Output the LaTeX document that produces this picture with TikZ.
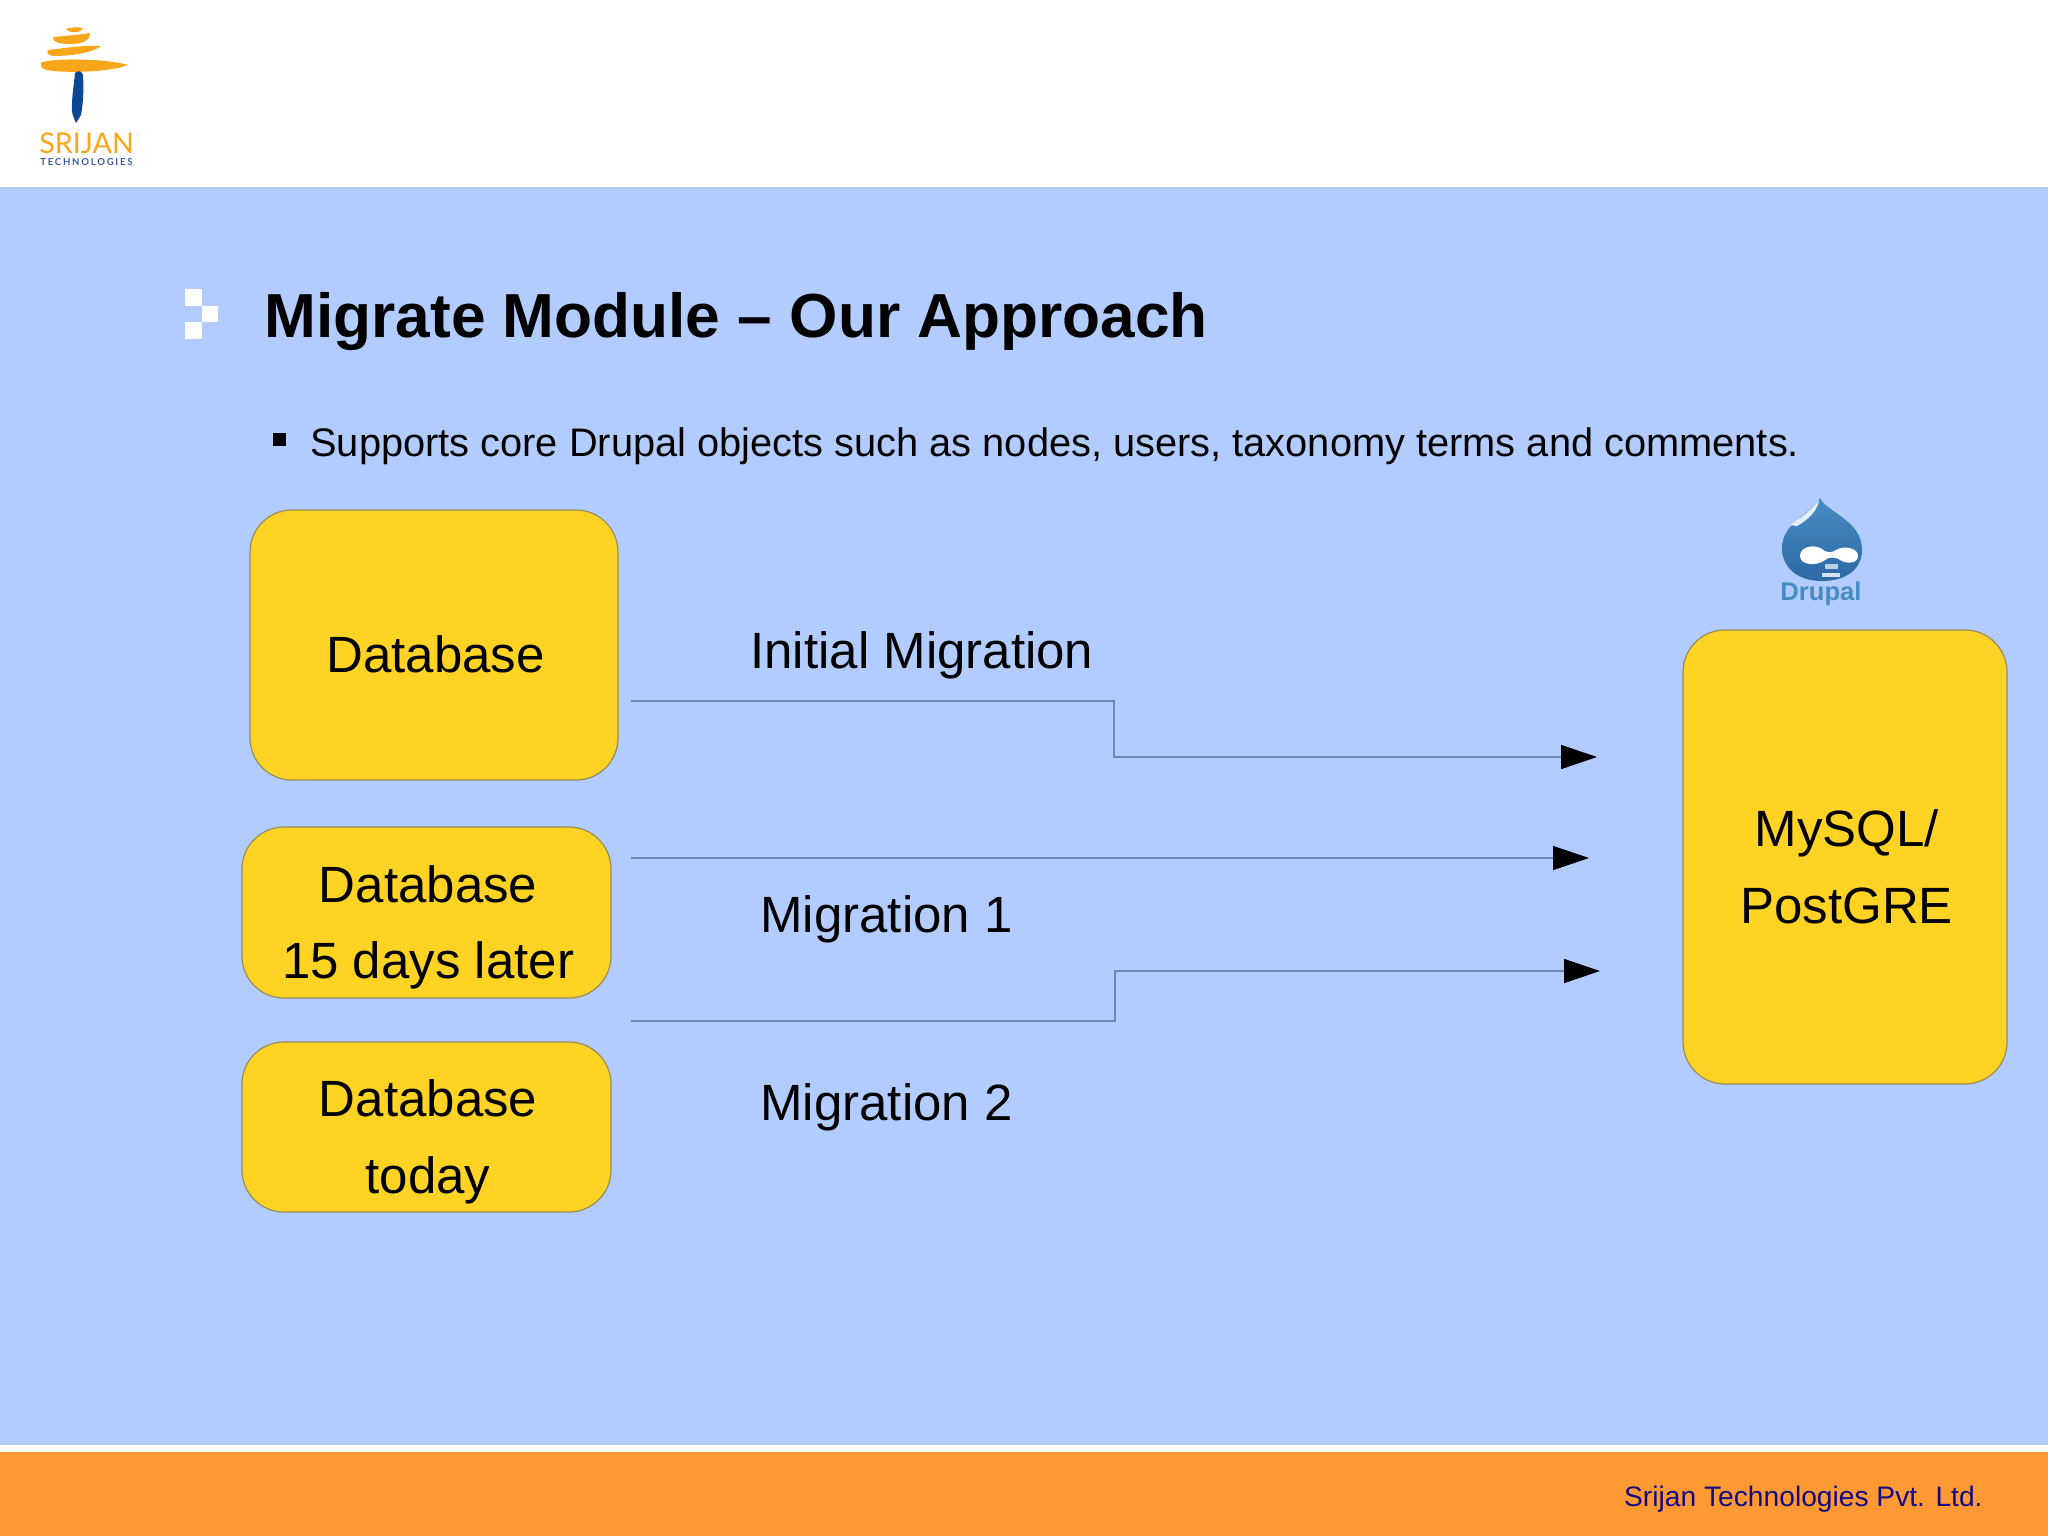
\documentclass[tikz,border=0pt]{standalone}
\usepackage{fontspec}
\setmainfont{Liberation Sans}
\newfontfamily\logofont{Lato}
\usetikzlibrary{arrows.meta}
\definecolor{slideblue}{RGB}{179,204,255}
\definecolor{boxyellow}{RGB}{255,211,35}
\definecolor{boxedge}{RGB}{150,140,90}
\definecolor{barorange}{RGB}{255,153,51}
\definecolor{logoorange}{RGB}{250,166,26}
\definecolor{logoblue}{RGB}{12,72,146}
\definecolor{logotext}{RGB}{58,95,160}
\definecolor{droptop}{RGB}{70,140,195}
\definecolor{dropbottom}{RGB}{45,105,165}
\definecolor{linegray}{RGB}{110,135,175}
\definecolor{footnavy}{RGB}{20,10,130}
\newcommand{\boxlabel}[1]{\hspace*{1.6pt}\raisebox{-6.3pt}[\height][\depth]{\begin{tabular}{@{}c@{}}#1\end{tabular}}}
\tikzset{
  dbbox/.style={draw=boxedge,line width=.6pt,fill=boxyellow,rounded corners=21pt,inner sep=0pt,outer sep=0pt,font=\fontsize{25.5}{38.4}\selectfont},
  caption/.style={anchor=base west,inner sep=0pt,font=\fontsize{25.5}{38.5}\selectfont},
  flow/.style={draw=linegray,line width=.7pt,-{Triangle[length=18pt,width=12pt,black]}}
}
\begin{document}
\begin{tikzpicture}[x=.5pt,y=-.5pt]
\useasboundingbox (0,0) rectangle (2048,1536);
\fill[white] (0,0) rectangle (2048,1536);
\fill[slideblue] (0,187) rectangle (2048,1445);
\fill[barorange] (0,1452) rectangle (2048,1536);

\fill[logoorange] (66,29) .. controls (70,27) and (79,27) .. (83,28) .. controls (81,33) and (70,34) .. (66,29);
\fill[logoorange] (53,37) .. controls (65,36) and (78,35) .. (90,33) .. controls (90,42) and (80,44) .. (70,44) .. controls (60,44) and (52,42) .. (53,37);
\fill[logoorange] (48,50) .. controls (65,48) and (85,45) .. (101,46) .. controls (92,53) and (70,56) .. (54,56) .. controls (49,56) and (46,53) .. (48,50);
\fill[logoorange] (41,63) .. controls (48,58) and (105,58) .. (128,65) .. controls (108,73) and (60,73) .. (47,70) .. controls (42,69) and (40,66) .. (41,63);
\fill[logoblue] (75,73) .. controls (78,70) and (82,71) .. (83,75) .. controls (84,90) and (83,105) .. (81,115) .. controls (80,118) and (77,120) .. (76,123) .. controls (74,118) and (71,114) .. (72,105) .. controls (72,95) and (74,85) .. (75,73);
\node[anchor=base west,inner sep=0pt,text=logoorange,font=\logofont\fontsize{14.3}{16}\selectfont] (logoname) at (39,154) {SRIJAN};
\node[anchor=base west,inner sep=0pt,text=logotext,font=\logofont\bfseries\addfontfeatures{LetterSpace=18}\fontsize{4.8}{6}\selectfont] (logosub) at (40,165) {TECHNOLOGIES};

\fill[white] (185,289) rectangle (202,306);
\fill[white] (202,306) rectangle (218,322);
\fill[white] (185,322) rectangle (202,339);
\node[anchor=base west,inner sep=0pt,font=\fontsize{31.1}{36}\selectfont\bfseries] (title) at (264,337) {Migrate Module -- Our Approach};
\fill[black] (273,433) rectangle (286,446);
\node[anchor=base west,inner sep=0pt,font=\fontsize{19.9}{24}\selectfont] (subtitle) at (310,456) {Supports core Drupal objects such as nodes, users, taxonomy terms and comments.};

\node[dbbox,minimum width=184pt,minimum height=135pt] (dbinitial) at (434,645) {\boxlabel{Database}};
\node[dbbox,minimum width=184.5pt,minimum height=85.5pt] (dblater) at (426.5,912.5) {\boxlabel{Database\\15 days later}};
\node[dbbox,minimum width=184.5pt,minimum height=85pt] (dbtoday) at (426.5,1127) {\boxlabel{Database\\today}};
\node[dbbox,minimum width=162pt,minimum height=227pt] (mysql) at (1845,857) {\boxlabel{MySQL/\\PostGRE}};

\node[caption] (capinitial) at (750,668) {Initial Migration};
\node[caption] (capone) at (760,932) {Migration 1};
\node[caption] (captwo) at (760,1120) {Migration 2};

\coordinate (bendA) at (1114,701);
\coordinate (bendB) at (1114,757);
\coordinate (bendC) at (1115,1021);
\coordinate (bendD) at (1115,971);
\coordinate (straight) at (1000,858);
\draw[flow,shorten <=6.5pt,shorten >=43pt] (dbinitial.east |- bendA) -- (bendA) -- (bendB) -- (mysql.west |- bendB);
\draw[flow,shorten <=10pt,shorten >=47pt] (dblater.east |- straight) -- (mysql.west |- straight);
\draw[flow,shorten <=10pt,shorten >=41.5pt] (dbtoday.east |- bendC) -- (bendC) -- (bendD) -- (mysql.west |- bendD);

\shade[top color=droptop,bottom color=dropbottom] (1820,498) .. controls (1826,512) and (1862,520) .. (1862,550) .. controls (1862,570) and (1845,581) .. (1822,581) .. controls (1798,581) and (1782,568) .. (1782,548) .. controls (1782,522) and (1812,514) .. (1820,498);
\fill[white!85!droptop] (1790,525) .. controls (1800,518) and (1812,510) .. (1819,500) .. controls (1818,510) and (1808,520) .. (1797,526) -- cycle;
\fill[white] (1800,556) .. controls (1800,546) and (1815,544) .. (1822,549) .. controls (1826,553) and (1832,553) .. (1836,550) .. controls (1844,545) and (1858,548) .. (1858,556) .. controls (1858,563) and (1848,564) .. (1842,561) .. controls (1836,557) and (1830,556) .. (1825,560) .. controls (1818,566) and (1800,566) .. (1800,556);
\fill[white!60!droptop] (1825,564) rectangle (1838,569);
\fill[white!75!droptop] (1822,573) rectangle (1840,577);
\node[anchor=base,inner sep=0pt,text=droptop,font=\fontsize{12.8}{14}\selectfont\bfseries] (drupal) at (1821,600) {Drupal};

\node[anchor=base east,inner sep=0pt,text=footnavy,font=\fontsize{14.1}{18}\selectfont] (footer) at (1983,1506) {Srijan Technologies Pvt. Ltd.};
\end{tikzpicture}
\end{document}
